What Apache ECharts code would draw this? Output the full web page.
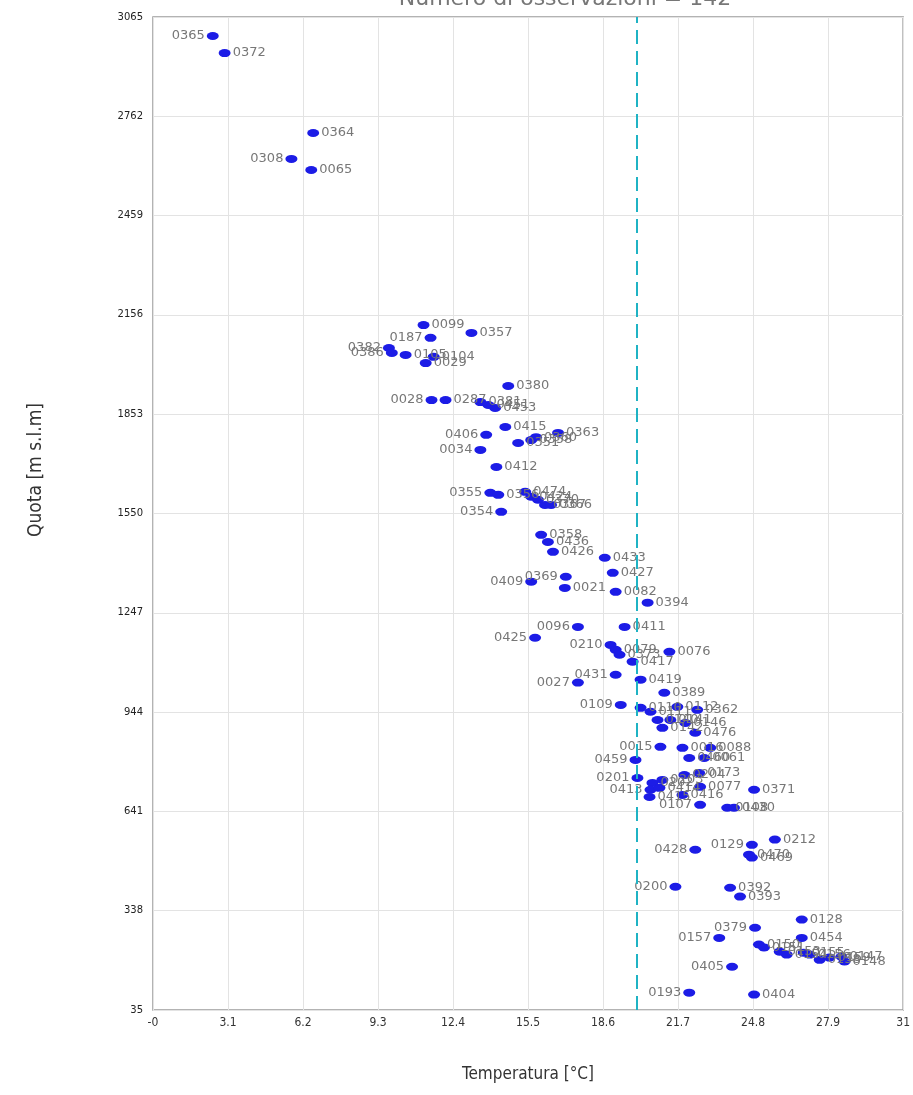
<!DOCTYPE html>
<html>
<head>
<meta charset="utf-8">
<script src="https://cdn.jsdelivr.net/npm/echarts@6/dist/echarts.min.js"></script>
<style>
html,body{margin:0;padding:0;background:#fff;}
#chart{width:913px;height:1095px;}
</style>
</head>
<body>
<div id="chart"></div>
<script>
// ---- data ----
const chartTitle = 'Numero di osservazioni = 142';
const xAxisTitle = 'Temperatura [°C]';
const yAxisTitle = 'Quota [m s.l.m]';
const xTickLabels = ['-0','3.1','6.2','9.3','12.4','15.5','18.6','21.7','24.8','27.9','31'];
const yTickLabels = ['35','338','641','944','1247','1550','1853','2156','2459','2762','3065'];
const referenceTemperature = 20;

const stationIds = [
 '0365','0372','0364','0308','0065',
 '0099','0357','0187','0382','0386','0105','0029','0104',
 '0380','0028','0287','0381','0451','0453',
 '0406','0034','0415','0351','0358b','0360','0363',
 '0412',
 '0355','0356','0354','0474','0424','0370','0367','0366',
 '0358','0436','0426','0433','0409','0369','0427','0021','0082','0394',
 '0096','0425','0411','0210','0079','0373','0076','0417','0431','0027','0419','0389',
 '0109','0110','0111','0112','0362','0140','0141','0142','0146','0476','0015','0016','0088',
 '0459','0460','0061','0201','0202','0203','0204','0173','0413','0414','0415b','0416','0077',
 '0371','0107','0108','0430',
 '0428','0129','0469','0470','0212','0200','0392','0393','0128','0379','0157','0454',
 '0150','0151','0153','0154','0155','0156','0158','0159','0147','0148',
 '0405','0193','0404'
];
const temperatures = [
 2.47,2.96,6.62,5.72,6.54,
 11.18,13.16,11.47,9.75,9.87,10.44,11.27,11.60,
 14.68,11.51,12.09,13.53,13.86,14.14,
 13.77,13.53,14.56,15.09,15.63,15.83,16.74,
 14.19,
 13.94,14.27,14.39,15.38,15.63,15.91,16.20,16.45,
 16.04,16.32,16.53,18.67,15.63,17.06,19.00,17.02,19.12,20.44,
 17.56,15.79,19.49,18.91,19.12,19.28,21.34,19.82,19.12,17.56,20.15,21.13,
 19.33,20.15,20.56,21.67,22.49,20.85,21.38,21.05,22.00,22.41,20.97,21.88,23.03,
 19.94,22.16,22.78,20.02,20.64,21.05,21.96,22.57,20.56,20.93,20.52,21.88,22.61,
 24.84,22.61,23.73,24.01,
 22.41,24.75,24.75,24.63,25.70,21.59,23.85,24.26,26.81,24.88,23.40,26.81,
 25.04,25.25,25.90,26.19,26.89,27.14,27.55,27.96,28.45,28.58,
 23.93,22.16,24.84
];
const altitudes = [
 3007,2955,2711,2632,2598,
 2125,2101,2086,2055,2040,2034,2009,2028,
 1939,1896,1896,1890,1881,1872,
 1790,1744,1814,1765,1774,1783,1796,
 1692,
 1613,1607,1555,1616,1601,1592,1576,1576,
 1485,1463,1433,1415,1342,1357,1369,1323,1311,1278,
 1204,1171,1204,1149,1134,1119,1128,1098,1058,1034,1043,1003,
 966,957,945,960,951,920,920,896,911,881,838,835,835,
 798,804,804,743,728,737,752,758,707,713,685,691,716,
 707,661,652,652,
 524,539,500,509,555,411,408,381,311,286,255,255,
 235,226,213,204,210,204,188,195,198,183,
 167,88,82
];
const leftLabelIds = ['0365','0308','0187','0382','0386','0028','0406','0034','0355','0354',
 '0409','0369','0096','0425','0210','0431','0027','0109','0015','0459','0201','0413','0107',
 '0428','0129','0200','0379','0157','0405','0193'];

// ---- chart ----
const chart = echarts.init(document.getElementById('chart'));
const points = stationIds.map((id, i) => {
  const left = leftLabelIds.indexOf(id) >= 0;
  return {
    value: [temperatures[i], altitudes[i]],
    name: id.replace(/[a-z]$/, ''),
    label: { position: left ? 'left' : 'right' }
  };
});

const tickIndex = (v, step, base) => Math.round((v - base) / step);

chart.setOption({
  animation: false,
  backgroundColor: '#ffffff',
  grid: { left: 153, right: 6, top: 17, bottom: 85, show: true, borderColor: '#9a9a9a', borderWidth: 1.5, containLabel: false },
  xAxis: {
    type: 'value', min: 0, max: 31, interval: 3.1,
    axisLine: { show: false }, axisTick: { show: false },
    splitLine: { show: true, lineStyle: { color: '#e3e3e3', width: 1 } },
    axisLabel: {
      margin: 7, color: '#333', fontSize: 12, fontFamily: 'DejaVu Sans Condensed, DejaVu Sans',
      formatter: v => xTickLabels[tickIndex(v, 3.1, 0)] ?? ''
    }
  },
  yAxis: {
    type: 'value', min: 35, max: 3065, interval: 303,
    axisLine: { show: false }, axisTick: { show: false },
    splitLine: { show: true, lineStyle: { color: '#e3e3e3', width: 1 } },
    axisLabel: {
      margin: 10, color: '#222', fontSize: 10, fontFamily: 'DejaVu Sans',
      formatter: v => yTickLabels[tickIndex(v, 303, 35)] ?? ''
    }
  },
  graphic: [
    { type: 'text', x: 565, y: 10, style: { text: chartTitle, textAlign: 'center', textVerticalAlign: 'bottom', font: '22px DejaVu Sans', fill: '#777' } },
    { type: 'text', x: 528, y: 1075, style: { text: xAxisTitle, textAlign: 'center', textVerticalAlign: 'middle', font: '17px DejaVu Sans Condensed, DejaVu Sans', fill: '#333' } },
    { type: 'text', x: 36, y: 470, rotation: Math.PI / 2, style: { text: yAxisTitle, textAlign: 'center', textVerticalAlign: 'middle', font: '19px DejaVu Sans Condensed, DejaVu Sans', fill: '#333' } }
  ],
  series: [{
    type: 'scatter',
    data: points,
    symbol: 'circle',
    symbolSize: [12, 8],
    itemStyle: { color: '#1c1ce6', opacity: 1 },
    label: {
      show: true, formatter: p => p.name, distance: 2,
      color: '#777', fontSize: 13, fontFamily: 'DejaVu Sans'
    },
    labelLayout: { hideOverlap: false },
    markLine: {
      silent: true, symbol: 'none', label: { show: false },
      lineStyle: { color: '#1fb3c4', width: 2, type: [14, 7] },
      data: [{ xAxis: referenceTemperature }]
    },
    z: 3
  }]
});
</script>
</body>
</html>
